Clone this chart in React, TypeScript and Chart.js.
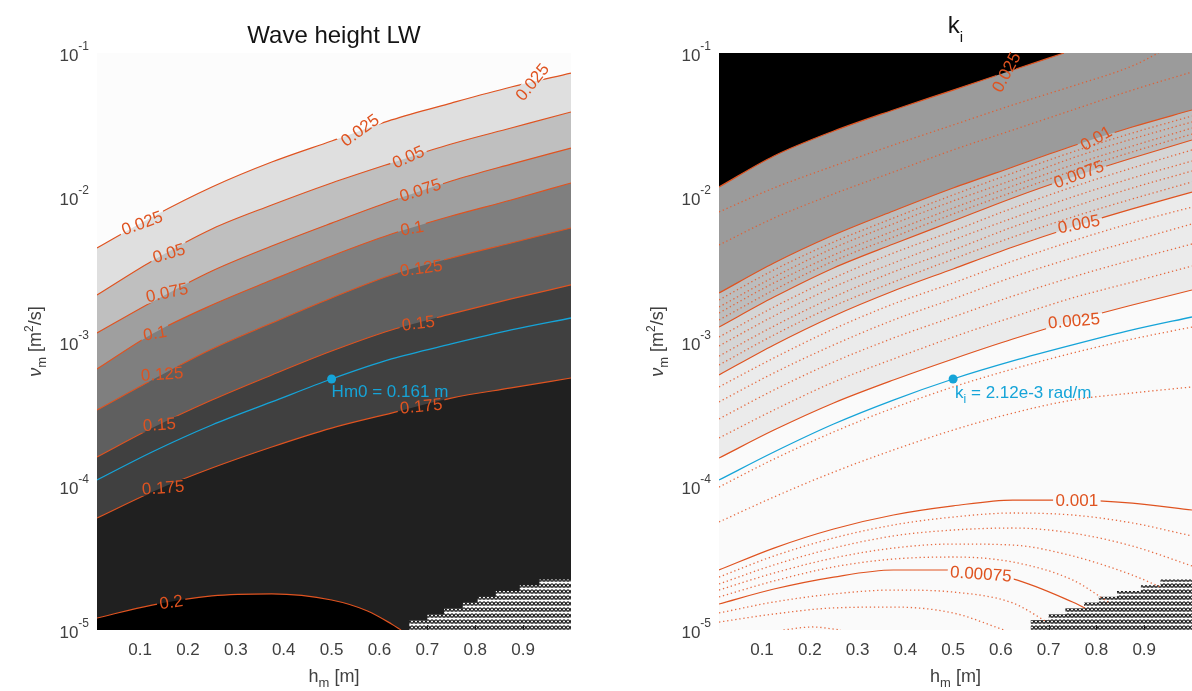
import { useEffect, useRef } from 'react';
import { Chart, registerables } from 'chart.js';

Chart.register(...registerables);

const PANEL_W = 596;
const PANEL_H = 691;
const FONT = '"Liberation Sans", Arial, Helvetica, sans-serif';
const ORANGE = '#df5320';
const ORANGE_DOTS = 'rgba(228,92,45,0.9)';
const CYAN = '#15a4d8';
const AXIS_TEXT = '#404040';

// h_m positions (m) at which the contour curves are sampled
const hGrid = [0.01, 0.125, 0.25, 0.375, 0.5, 0.625, 0.75, 0.875, 1.0];

// axis ticks
const xTickValues = [0.1, 0.2, 0.3, 0.4, 0.5, 0.6, 0.7, 0.8, 0.9];
const xTickLabels = ['0.1', '0.2', '0.3', '0.4', '0.5', '0.6', '0.7', '0.8', '0.9'];
const yTickExponents = [-1, -2, -3, -4, -5];

// ---- Wave height LW: log10(nu_m) along each contour, on hGrid
const hm025 = [-2.352, -2.137, -1.929, -1.756, -1.610, -1.464, -1.347, -1.236, -1.139];
const hm050 = [-2.678, -2.442, -2.220, -2.054, -1.901, -1.763, -1.631, -1.520, -1.409];
const hm075 = [-2.941, -2.726, -2.511, -2.338, -2.179, -2.026, -1.887, -1.770, -1.659];
const hm100 = [-3.191, -2.948, -2.747, -2.574, -2.407, -2.255, -2.130, -2.019, -1.901];
const hm125 = [-3.475, -3.267, -3.052, -2.872, -2.698, -2.539, -2.421, -2.317, -2.213];
const hm150 = [-3.801, -3.600, -3.406, -3.232, -3.066, -2.920, -2.809, -2.705, -2.608];
const hm175 = [-4.224, -4.043, -3.877, -3.731, -3.600, -3.496, -3.392, -3.322, -3.253];
const hm200H = [0.01, 0.125, 0.25, 0.375, 0.5, 0.575, 0.625, 0.645];
const hm200 = [-4.917, -4.827, -4.764, -4.750, -4.792, -4.868, -4.958, -5.0];
// Hm0 = 0.161 m through the selected point
const hmMatch = [-3.960, -3.766, -3.579, -3.419, -3.260, -3.121, -3.017, -2.920, -2.837];

const hmLabelText = ['0.025', '0.025', '0.025', '0.05', '0.05', '0.075', '0.075', '0.1', '0.1', '0.125', '0.125', '0.15', '0.15', '0.175', '0.175', '0.2'];
const hmLabelH = [0.104, 0.559, 0.919, 0.160, 0.660, 0.156, 0.685, 0.131, 0.668, 0.146, 0.687, 0.140, 0.681, 0.148, 0.687, 0.165];
const hmLabelV = [-2.178, -1.534, -1.201, -2.387, -1.72, -2.66, -1.95, -2.941, -2.213, -3.225, -2.49, -3.575, -2.872, -4.012, -3.447, -4.806];
const hmLabelAngle = [-20, -36, -51, -17, -24, -12, -18, -10, -10, -4, -8, -4, -7, -4, -6, -8];

// ---- k_i: log10(nu_m) along each labelled contour
const ki025H = [0.01, 0.125, 0.25, 0.375, 0.5, 0.625, 0.732];
const ki025 = [-1.929, -1.714, -1.541, -1.395, -1.257, -1.118, -1.0];
const ki010 = [-2.664, -2.456, -2.262, -2.095, -1.936, -1.790, -1.645, -1.513, -1.395];
const ki0075 = [-2.900, -2.692, -2.490, -2.324, -2.165, -2.005, -1.860, -1.728, -1.603];
const ki005 = [-3.232, -3.024, -2.823, -2.650, -2.497, -2.345, -2.206, -2.081, -1.964];
const ki0025 = [-3.808, -3.614, -3.426, -3.267, -3.121, -2.983, -2.858, -2.747, -2.643];
const ki001 = [-4.584, -4.432, -4.300, -4.203, -4.140, -4.099, -4.099, -4.120, -4.168];
const ki00075H = [0.01, 0.125, 0.25, 0.375, 0.5, 0.625, 0.75, 0.776];
const ki00075 = [-4.820, -4.716, -4.633, -4.584, -4.584, -4.646, -4.806, -4.847];
// k_i = 2.12e-3 rad/m through the selected point
const kiMatch = [-3.960, -3.766, -3.572, -3.406, -3.260, -3.135, -3.024, -2.920, -2.830];

// intermediate (unlabelled, dotted) k_i contours
const kiDot020H = [0.01, 0.125, 0.25, 0.375, 0.5, 0.625, 0.75, 0.875, 0.93];
const kiDot020 = [-2.102, -1.936, -1.783, -1.638, -1.499, -1.360, -1.229, -1.090, -1.0];
const kiDot015 = [-2.331, -2.144, -1.977, -1.825, -1.672, -1.534, -1.395, -1.257, -1.132];
const kiDotA1 = [-2.712, -2.504, -2.310, -2.144, -1.984, -1.832, -1.686, -1.555, -1.437];
const kiDotA2 = [-2.761, -2.553, -2.352, -2.185, -2.026, -1.880, -1.728, -1.596, -1.478];
const kiDotA3 = [-2.802, -2.594, -2.400, -2.234, -2.075, -1.922, -1.776, -1.645, -1.520];
const kiDotA4 = [-2.851, -2.643, -2.442, -2.276, -2.116, -1.964, -1.818, -1.686, -1.562];
const kiDotB1 = [-2.969, -2.761, -2.560, -2.387, -2.234, -2.075, -1.929, -1.797, -1.672];
const kiDotB2 = [-3.031, -2.823, -2.622, -2.456, -2.296, -2.144, -1.998, -1.867, -1.749];
const kiDotB3 = [-3.101, -2.893, -2.692, -2.518, -2.366, -2.206, -2.068, -1.936, -1.818];
const kiDotB4 = [-3.163, -2.955, -2.754, -2.588, -2.428, -2.276, -2.137, -2.012, -1.894];
const kiDotC1 = [-3.315, -3.114, -2.913, -2.740, -2.594, -2.442, -2.303, -2.178, -2.068];
const kiDotC2 = [-3.419, -3.218, -3.024, -2.851, -2.705, -2.553, -2.421, -2.303, -2.185];
const kiDotC3 = [-3.537, -3.336, -3.142, -2.976, -2.830, -2.685, -2.553, -2.435, -2.324];
const kiDotC4 = [-3.669, -3.475, -3.281, -3.121, -2.969, -2.830, -2.698, -2.588, -2.477];
const kiDotG1 = [-4.009, -3.815, -3.627, -3.461, -3.315, -3.191, -3.080, -2.983, -2.900];
const kiDotG2 = [-4.251, -4.078, -3.905, -3.752, -3.614, -3.496, -3.406, -3.357, -3.315];
const kiDotH1 = [-4.633, -4.487, -4.362, -4.272, -4.217, -4.189, -4.203, -4.258, -4.348];
const kiDotH2 = [-4.681, -4.549, -4.432, -4.348, -4.307, -4.293, -4.328, -4.418, -4.556];
const kiDotH3H = [0.01, 0.125, 0.25, 0.375, 0.5, 0.625, 0.75, 0.875, 0.934];
const kiDotH3 = [-4.723, -4.605, -4.501, -4.432, -4.404, -4.411, -4.487, -4.619, -4.702];
const kiDotH4H = [0.01, 0.125, 0.25, 0.375, 0.5, 0.625, 0.75, 0.828];
const kiDotH4 = [-4.771, -4.660, -4.563, -4.508, -4.494, -4.529, -4.653, -4.813];
const kiDotI1H = [0.01, 0.125, 0.25, 0.375, 0.5, 0.625, 0.697];
const kiDotI1 = [-4.882, -4.806, -4.750, -4.723, -4.737, -4.813, -4.945];
const kiDotI2H = [0.01, 0.125, 0.25, 0.375, 0.5, 0.607];
const kiDotI2 = [-4.945, -4.889, -4.847, -4.841, -4.882, -5.0];
const kiDotI3H = [0.145, 0.205, 0.265];
const kiDotI3 = [-5.0, -4.979, -5.0];

const kiLabelText = ['0.025', '0.01', '0.0075', '0.005', '0.0025', '0.001', '0.00075'];
const kiLabelH = [0.611, 0.799, 0.763, 0.763, 0.753, 0.759, 0.558];
const kiLabelV = [-1.132, -1.59, -1.84, -2.185, -2.855, -4.10, -4.61];
const kiLabelAngle = [-62, -30, -20, -11, -5, 0, 4];

// region without a solution: stair-stepped upper edge, log10(nu_m)
const nanStepH = [0.662, 0.7, 0.735, 0.774, 0.805, 0.843, 0.893, 0.934, 0.983, 1.0];
const nanStepTop = [-4.97, -4.93, -4.89, -4.85, -4.81, -4.77, -4.73, -4.69, -4.65, -4.65];

// selected operating point
const selH = 0.5;
const selNu = 5.5e-4;

type Piece = { t: string; size: number; dy?: number; italic?: boolean };

const toPoints = (h: number[], v: number[]) => h.map((x, i) => ({ x, y: Math.pow(10, v[i]) }));

function drawPieces(ctx: CanvasRenderingContext2D, pieces: Piece[], x: number, y: number, align: string, color: string) {
  ctx.textBaseline = 'alphabetic';
  ctx.textAlign = 'left';
  ctx.fillStyle = color;
  const fontOf = (p: Piece) => `${p.italic ? 'italic ' : ''}${p.size}px ${FONT}`;
  const widths = pieces.map((p) => {
    ctx.font = fontOf(p);
    return ctx.measureText(p.t).width;
  });
  const total = widths.reduce((a, b) => a + b, 0);
  let cx = align === 'left' ? x : align === 'center' ? x - total / 2 : x - total;
  pieces.forEach((p, i) => {
    ctx.font = fontOf(p);
    ctx.fillText(p.t, cx, y + (p.dy || 0));
    cx += widths[i];
  });
}

// small "x" markers on white, used for the region without a solution
function makeHatch(ctx: CanvasRenderingContext2D) {
  const c = document.createElement('canvas');
  c.width = 4;
  c.height = 6;
  const g = c.getContext('2d')!;
  g.fillStyle = '#ffffff';
  g.fillRect(0, 0, 4, 6);
  g.strokeStyle = '#111111';
  g.lineWidth = 1.1;
  g.beginPath();
  g.moveTo(0.2, 1.6);
  g.lineTo(3.8, 5.4);
  g.moveTo(3.8, 1.6);
  g.lineTo(0.2, 5.4);
  g.stroke();
  g.fillStyle = 'rgba(20,20,20,0.55)';
  g.fillRect(0, 5.4, 4, 0.6);
  return ctx.createPattern(c, 'repeat');
}

interface Band { h: number[]; v: number[]; color: string }
interface Solid { h: number[]; v: number[]; level: string }
interface PanelSpec {
  bg: string;
  fillTo: string;
  bands: Band[];
  solid: Solid[];
  dotted: { h: number[]; v: number[] }[];
  match: number[];
  labelText: string[];
  labelH: number[];
  labelV: number[];
  labelAngle: number[];
  matchLabel: Piece[];
  matchDx: number;
  matchDy: number;
  title: Piece[];
  titleY: number;
  yAxisWidth: number;
  padRight: number;
}

const LABEL_FONT = `17px ${FONT}`;

function buildPanel(canvas: HTMLCanvasElement, spec: PanelSpec) {
  const ctx0 = canvas.getContext('2d')!;
  const hatch = makeHatch(ctx0);
  const datasets: any[] = [];

  spec.bands.forEach((b, i) => {
    datasets.push({
      data: toPoints(b.h, b.v),
      backgroundColor: b.color,
      borderColor: 'rgba(0,0,0,0)',
      borderWidth: 0,
      fill: spec.fillTo,
      pointRadius: 0,
      cubicInterpolationMode: 'monotone',
      order: 100 - i,
    });
  });

  datasets.push({
    data: toPoints(nanStepH, nanStepTop),
    stepped: 'after',
    backgroundColor: hatch,
    borderColor: 'rgba(0,0,0,0)',
    borderWidth: 0,
    fill: 'start',
    pointRadius: 0,
    order: 60,
  });

  spec.dotted.forEach((d) => {
    datasets.push({
      data: toPoints(d.h, d.v),
      borderColor: ORANGE_DOTS,
      borderWidth: 1.3,
      borderDash: [1.3, 2.8],
      fill: false,
      pointRadius: 0,
      cubicInterpolationMode: 'monotone',
      order: 30,
    });
  });

  spec.solid.forEach((s) => {
    datasets.push({
      data: toPoints(s.h, s.v),
      borderColor: ORANGE,
      borderWidth: 1.2,
      fill: false,
      pointRadius: 0,
      cubicInterpolationMode: 'monotone',
      order: 20,
      level: s.level,
    });
  });

  datasets.push({
    data: toPoints(hGrid, spec.match),
    borderColor: CYAN,
    borderWidth: 1.3,
    fill: false,
    pointRadius: 0,
    cubicInterpolationMode: 'monotone',
    order: 5,
  });

  datasets.push({
    data: [{ x: selH, y: selNu }],
    showLine: false,
    pointRadius: 4.5,
    pointBackgroundColor: CYAN,
    pointBorderColor: CYAN,
    pointBorderWidth: 0,
    order: 1,
  });

  const clipped = new Set<number>();

  // leaves a gap in each labelled contour line where its level text sits
  const labelGaps = {
    id: 'labelGaps',
    beforeDatasetDraw(chart: any, args: any) {
      const ds = chart.data.datasets[args.index];
      if (!ds.level) return;
      const ctx = chart.ctx as CanvasRenderingContext2D;
      const xs = chart.scales.x;
      const ys = chart.scales.y;
      ctx.save();
      ctx.font = LABEL_FONT;
      ctx.beginPath();
      ctx.rect(0, 0, chart.width, chart.height);
      spec.labelText.forEach((t, i) => {
        if (t !== ds.level) return;
        const px = xs.getPixelForValue(spec.labelH[i]);
        const py = ys.getPixelForValue(Math.pow(10, spec.labelV[i]));
        const a = (spec.labelAngle[i] * Math.PI) / 180;
        const w = ctx.measureText(t).width + 5;
        const hh = 14;
        const corners = [[-w / 2, -hh / 2], [w / 2, -hh / 2], [w / 2, hh / 2], [-w / 2, hh / 2]];
        corners.forEach(([dx, dy], k) => {
          const cx = px + dx * Math.cos(a) - dy * Math.sin(a);
          const cy = py + dx * Math.sin(a) + dy * Math.cos(a);
          if (k === 0) ctx.moveTo(cx, cy);
          else ctx.lineTo(cx, cy);
        });
        ctx.closePath();
      });
      ctx.clip('evenodd');
      clipped.add(args.index);
    },
    afterDatasetDraw(chart: any, args: any) {
      if (clipped.has(args.index)) {
        chart.ctx.restore();
        clipped.delete(args.index);
      }
    },
  };

  const decor = {
    id: 'decor',
    beforeDatasetsDraw(chart: any) {
      const { ctx, chartArea } = chart;
      ctx.save();
      ctx.fillStyle = spec.bg;
      ctx.fillRect(chartArea.left, chartArea.top, chartArea.right - chartArea.left, chartArea.bottom - chartArea.top);
      ctx.restore();
    },
    afterDatasetsDraw(chart: any) {
      const ctx = chart.ctx as CanvasRenderingContext2D;
      const { chartArea } = chart;
      const xs = chart.scales.x;
      const ys = chart.scales.y;
      ctx.save();

      // contour level labels
      ctx.font = LABEL_FONT;
      ctx.fillStyle = ORANGE;
      ctx.textAlign = 'center';
      ctx.textBaseline = 'middle';
      spec.labelText.forEach((t, i) => {
        const px = xs.getPixelForValue(spec.labelH[i]);
        const py = ys.getPixelForValue(Math.pow(10, spec.labelV[i]));
        ctx.save();
        ctx.translate(px, py);
        ctx.rotate((spec.labelAngle[i] * Math.PI) / 180);
        ctx.fillText(t, 0, 1);
        ctx.restore();
      });

      // label of the selected point
      const sx = xs.getPixelForValue(selH);
      const sy = ys.getPixelForValue(selNu);
      drawPieces(ctx, spec.matchLabel, sx + spec.matchDx, sy + spec.matchDy, 'left', CYAN);

      // inward tick marks, visible where there is no filled contour
      ctx.strokeStyle = '#262626';
      ctx.lineWidth = 1;
      xTickValues.forEach((v) => {
        if (v < nanStepH[0]) return;
        const px = Math.round(xs.getPixelForValue(v)) + 0.5;
        ctx.beginPath();
        ctx.moveTo(px, chartArea.bottom);
        ctx.lineTo(px, chartArea.bottom - 5);
        ctx.stroke();
      });

      // x tick labels
      ctx.font = `17px ${FONT}`;
      ctx.fillStyle = AXIS_TEXT;
      ctx.textAlign = 'center';
      ctx.textBaseline = 'alphabetic';
      xTickValues.forEach((v, i) => {
        ctx.fillText(xTickLabels[i], xs.getPixelForValue(v), chartArea.bottom + 25);
      });

      // y tick labels (powers of ten)
      yTickExponents.forEach((e) => {
        const py = ys.getPixelForValue(Math.pow(10, e));
        drawPieces(ctx, [{ t: '10', size: 17 }, { t: String(e), size: 12, dy: -11 }], chartArea.left - 8, py + 8, 'right', AXIS_TEXT);
      });

      // axis titles
      const cxMid = (chartArea.left + chartArea.right) / 2;
      const cyMid = (chartArea.top + chartArea.bottom) / 2;
      drawPieces(ctx, [{ t: 'h', size: 18 }, { t: 'm', size: 13, dy: 5 }, { t: ' [m]', size: 18 }], cxMid, 682, 'center', AXIS_TEXT);
      ctx.save();
      ctx.translate(chartArea.left - 56, cyMid);
      ctx.rotate(-Math.PI / 2);
      drawPieces(
        ctx,
        [
          { t: 'ν', size: 18, italic: true },
          { t: 'm', size: 13, dy: 5 },
          { t: ' [m', size: 18 },
          { t: '2', size: 12, dy: -8 },
          { t: '/s]', size: 18 },
        ],
        0,
        0,
        'center',
        AXIS_TEXT,
      );
      ctx.restore();

      // panel title
      drawPieces(ctx, spec.title, cxMid, spec.titleY, 'center', '#141414');
      ctx.restore();
    },
  };

  return new Chart(canvas, {
    type: 'line',
    data: { datasets },
    options: {
      responsive: false,
      animation: false,
      devicePixelRatio: 1,
      events: [],
      layout: { autoPadding: false, padding: { left: 0, right: spec.padRight, top: 53, bottom: 0 } },
      plugins: {
        legend: { display: false },
        tooltip: { enabled: false },
        title: { display: false },
        filler: { propagate: false },
      },
      scales: {
        x: {
          type: 'linear',
          min: 0.01,
          max: 1.0,
          ticks: { display: false },
          grid: { display: false },
          border: { display: false },
          afterFit: (s: any) => {
            s.height = PANEL_H - 630;
          },
        },
        y: {
          type: 'logarithmic',
          min: 1e-5,
          max: 1e-1,
          ticks: { display: false },
          grid: { display: false },
          border: { display: false },
          afterFit: (s: any) => {
            s.width = spec.yAxisWidth;
          },
        },
      },
    } as any,
    plugins: [labelGaps, decor],
  });
}

const waveSpec: PanelSpec = {
  bg: '#fcfcfc',
  fillTo: 'start',
  bands: [
    { h: hGrid, v: hm025, color: '#dfdfdf' },
    { h: hGrid, v: hm050, color: '#bfbfbf' },
    { h: hGrid, v: hm075, color: '#9f9f9f' },
    { h: hGrid, v: hm100, color: '#7f7f7f' },
    { h: hGrid, v: hm125, color: '#5f5f5f' },
    { h: hGrid, v: hm150, color: '#404040' },
    { h: hGrid, v: hm175, color: '#202020' },
    { h: hm200H, v: hm200, color: '#000000' },
  ],
  solid: [
    { h: hGrid, v: hm025, level: '0.025' },
    { h: hGrid, v: hm050, level: '0.05' },
    { h: hGrid, v: hm075, level: '0.075' },
    { h: hGrid, v: hm100, level: '0.1' },
    { h: hGrid, v: hm125, level: '0.125' },
    { h: hGrid, v: hm150, level: '0.15' },
    { h: hGrid, v: hm175, level: '0.175' },
    { h: hm200H, v: hm200, level: '0.2' },
  ],
  dotted: [],
  match: hmMatch,
  labelText: hmLabelText,
  labelH: hmLabelH,
  labelV: hmLabelV,
  labelAngle: hmLabelAngle,
  matchLabel: [{ t: 'Hm0 = 0.161 m', size: 17 }],
  matchDx: 0,
  matchDy: 18,
  title: [{ t: 'Wave height LW', size: 24 }],
  titleY: 43,
  yAxisWidth: 97,
  padRight: 25,
};

const kiSpec: PanelSpec = {
  bg: '#fafafa',
  fillTo: 'end',
  bands: [
    { h: hGrid, v: ki0025, color: '#ebebeb' },
    { h: hGrid, v: ki005, color: '#d5d5d5' },
    { h: hGrid, v: ki0075, color: '#bdbdbd' },
    { h: hGrid, v: ki010, color: '#9b9b9b' },
    { h: ki025H, v: ki025, color: '#000000' },
  ],
  solid: [
    { h: ki025H, v: ki025, level: '0.025' },
    { h: hGrid, v: ki010, level: '0.01' },
    { h: hGrid, v: ki0075, level: '0.0075' },
    { h: hGrid, v: ki005, level: '0.005' },
    { h: hGrid, v: ki0025, level: '0.0025' },
    { h: hGrid, v: ki001, level: '0.001' },
    { h: ki00075H, v: ki00075, level: '0.00075' },
  ],
  dotted: [
    { h: kiDot020H, v: kiDot020 },
    { h: hGrid, v: kiDot015 },
    { h: hGrid, v: kiDotA1 },
    { h: hGrid, v: kiDotA2 },
    { h: hGrid, v: kiDotA3 },
    { h: hGrid, v: kiDotA4 },
    { h: hGrid, v: kiDotB1 },
    { h: hGrid, v: kiDotB2 },
    { h: hGrid, v: kiDotB3 },
    { h: hGrid, v: kiDotB4 },
    { h: hGrid, v: kiDotC1 },
    { h: hGrid, v: kiDotC2 },
    { h: hGrid, v: kiDotC3 },
    { h: hGrid, v: kiDotC4 },
    { h: hGrid, v: kiDotG1 },
    { h: hGrid, v: kiDotG2 },
    { h: hGrid, v: kiDotH1 },
    { h: hGrid, v: kiDotH2 },
    { h: kiDotH3H, v: kiDotH3 },
    { h: kiDotH4H, v: kiDotH4 },
    { h: kiDotI1H, v: kiDotI1 },
    { h: kiDotI2H, v: kiDotI2 },
    { h: kiDotI3H, v: kiDotI3 },
  ],
  match: kiMatch,
  labelText: kiLabelText,
  labelH: kiLabelH,
  labelV: kiLabelV,
  labelAngle: kiLabelAngle,
  matchLabel: [
    { t: 'k', size: 17 },
    { t: 'i', size: 12, dy: 5 },
    { t: ' = 2.12e-3 rad/m', size: 17 },
  ],
  matchDx: 2,
  matchDy: 19,
  title: [
    { t: 'k', size: 24 },
    { t: 'i', size: 15, dy: 9 },
  ],
  titleY: 33,
  yAxisWidth: 123,
  padRight: 0,
};

export default function App() {
  const leftRef = useRef<HTMLCanvasElement>(null);
  const rightRef = useRef<HTMLCanvasElement>(null);

  useEffect(() => {
    const a = buildPanel(leftRef.current!, waveSpec);
    const b = buildPanel(rightRef.current!, kiSpec);
    return () => {
      a.destroy();
      b.destroy();
    };
  }, []);

  return (
    <div style={{ position: 'fixed', left: 0, top: 0, width: 1192, height: 691, background: '#ffffff' }}>
      <canvas
        ref={leftRef}
        width={PANEL_W}
        height={PANEL_H}
        style={{ position: 'absolute', left: 0, top: 0, width: PANEL_W, height: PANEL_H }}
      />
      <canvas
        ref={rightRef}
        width={PANEL_W}
        height={PANEL_H}
        style={{ position: 'absolute', left: PANEL_W, top: 0, width: PANEL_W, height: PANEL_H }}
      />
    </div>
  );
}
